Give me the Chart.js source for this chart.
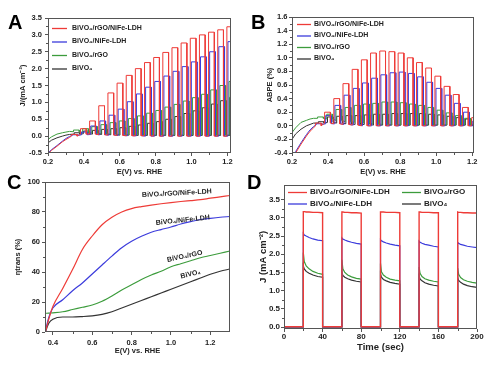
<!DOCTYPE html>
<html>
<head>
<meta charset="utf-8">
<script src="https://cdn.jsdelivr.net/npm/chart.js@4.4.1/dist/chart.umd.min.js"></script>
<style>
  html, body { margin: 0; padding: 0; background: #fff; }
  #fig { position: relative; width: 497px; height: 367px; overflow: hidden; }
  #fig canvas { position: absolute; }
  .tag { position: absolute; font: bold 20px 'Liberation Sans', Arial, sans-serif; line-height: 20px; color: #000; }
</style>
</head>
<body>
<div id="fig">
  <canvas id="chartA" width="245" height="180" style="left:0;top:0"></canvas>
  <canvas id="chartB" width="252" height="180" style="left:245px;top:0"></canvas>
  <canvas id="chartC" width="245" height="197" style="left:0;top:170px"></canvas>
  <canvas id="chartD" width="252" height="197" style="left:245px;top:170px"></canvas>
  <div class="tag" style="left:8px;top:12px">A</div>
  <div class="tag" style="left:251px;top:12px">B</div>
  <div class="tag" style="left:7px;top:172px">C</div>
  <div class="tag" style="left:247px;top:172px">D</div>
</div>
<script>
// sample names and colours, same order in every panel
const seriesNames = ["BiVO₄/rGO/NiFe-LDH", "BiVO₄/NiFe-LDH", "BiVO₄/rGO", "BiVO₄"];
const seriesColors = ["#ee3b37", "#3c3cdc", "#3c9c3c", "#333333"];

// A + B: chopped-light scans. potential where the light goes on, per chop (V vs RHE)
const chopOnE = [0.330, 0.381, 0.432, 0.483, 0.534, 0.585, 0.636, 0.687, 0.738,
                 0.789, 0.840, 0.891, 0.942, 0.993, 1.044, 1.095, 1.146, 1.197];
const chopLen = 0.032;                  // light-on span of each chop (V)
const chopShift = [0, 0.006, 0.012, 0.016]; // small phase difference between samples
// start of the scan, before the chopping starts
const preE = [0.20, 0.22, 0.25, 0.28, 0.30, 0.32];

// panel A, photocurrent J (mA cm-2)
const redPreA   = [-0.52, -0.42, -0.30, -0.17, -0.10, -0.04];
const bluePreA  = [-0.50, -0.40, -0.28, -0.15, -0.07, -0.01];
const greenPreA = [-0.10, -0.02, 0.06, 0.10, 0.12, 0.14];
const blackPreA = [-0.20, -0.12, -0.05, 0.00, 0.03, 0.05];
const redTopA   = [0.05, 0.22, 0.45, 0.90, 1.28, 1.57, 1.80, 2.00, 2.18, 2.33, 2.48, 2.62, 2.76, 2.90, 3.00, 3.08, 3.15, 3.24];
const blueTopA  = [0.04, 0.12, 0.30, 0.45, 0.62, 0.80, 1.02, 1.25, 1.45, 1.62, 1.78, 1.92, 2.06, 2.20, 2.35, 2.50, 2.65, 2.80];
const greenTopA = [0.18, 0.22, 0.28, 0.34, 0.40, 0.45, 0.52, 0.60, 0.68, 0.76, 0.86, 0.94, 1.04, 1.14, 1.24, 1.37, 1.50, 1.62];
const blackTopA = [0.10, 0.15, 0.17, 0.20, 0.22, 0.25, 0.29, 0.33, 0.38, 0.43, 0.50, 0.58, 0.67, 0.75, 0.84, 0.95, 1.05, 1.15];
const redDarkA   = [0.00, 0.06, 0.06, 0.04, 0.03, 0.02, 0.01, 0.01, 0.01, 0, 0, 0, 0, 0, 0, 0, 0, 0];
const blueDarkA  = [0.02, 0.04, 0.05, 0.04, 0.03, 0.02, 0.01, 0.01, 0, 0, 0, 0, 0, 0, 0, 0, 0, 0];
const greenDarkA = [0.13, 0.11, 0.09, 0.07, 0.06, 0.05, 0.04, 0.04, 0.03, 0.03, 0.03, 0.03, 0.03, 0.03, 0.03, 0.03, 0.03, 0.03];
const blackDarkA = [0.06, 0.07, 0.06, 0.05, 0.04, 0.03, 0.03, 0.02, 0.02, 0.02, 0.02, 0.02, 0.02, 0.02, 0.02, 0.02, 0.02, 0.02];

// panel B, ABPE (%)
const redPreB   = [-0.50, -0.40, -0.27, -0.15, -0.08, -0.03];
const bluePreB  = [-0.48, -0.38, -0.25, -0.13, -0.06, -0.01];
const greenPreB = [-0.10, -0.03, 0.05, 0.08, 0.10, 0.11];
const blackPreB = [-0.20, -0.12, -0.05, 0.00, 0.02, 0.04];
const redTopB   = [0.04, 0.20, 0.40, 0.62, 0.83, 0.97, 1.07, 1.10, 1.09, 1.07, 1.00, 0.93, 0.85, 0.73, 0.58, 0.46, 0.27, 0.12];
const blueTopB  = [0.03, 0.15, 0.30, 0.45, 0.55, 0.63, 0.70, 0.75, 0.78, 0.79, 0.77, 0.72, 0.64, 0.55, 0.45, 0.33, 0.20, 0.07];
const greenTopB = [0.13, 0.17, 0.24, 0.27, 0.30, 0.32, 0.33, 0.35, 0.35, 0.34, 0.32, 0.30, 0.27, 0.23, 0.19, 0.15, 0.11, 0.06];
const blackTopB = [0.06, 0.13, 0.14, 0.15, 0.15, 0.16, 0.17, 0.17, 0.18, 0.18, 0.18, 0.18, 0.17, 0.16, 0.14, 0.12, 0.10, 0.06];
const redDarkB   = [0.00, 0.04, 0.03, 0.02, 0.01, 0, 0, 0, 0, 0, 0, 0, 0, 0, 0, 0, 0, 0];
const blueDarkB  = [0.02, 0.03, 0.03, 0.02, 0.01, 0, 0, 0, 0, 0, 0, 0, 0, 0, 0, 0, 0, 0];
const greenDarkB = [0.11, 0.10, 0.08, 0.06, 0.05, 0.04, 0.03, 0.02, 0.02, 0.01, 0.01, 0.01, 0.01, 0.01, 0.01, 0.01, 0.01, 0.01];
const blackDarkB = [0.04, 0.05, 0.04, 0.03, 0.02, 0.02, 0.01, 0.01, 0.01, 0.01, 0.01, 0.01, 0.01, 0.01, 0.01, 0.01, 0.01, 0.01];

// panel C, charge transfer efficiency (%)
const effE     = [0.362, 0.37, 0.38, 0.40, 0.45, 0.50, 0.55, 0.60, 0.65, 0.70, 0.75, 0.80, 0.85, 0.90, 0.95, 1.00, 1.05, 1.10, 1.15, 1.20, 1.25, 1.30];
const effRed   = [0, 4, 9, 17, 29, 41.6, 55, 64, 71.5, 76.5, 80, 82.3, 83.6, 84.6, 85.5, 86.3, 87, 87.6, 88.2, 89.2, 90.1, 91];
const effBlue  = [0, 5, 10, 16, 21.5, 27.5, 32.7, 38.7, 44.7, 50.6, 56.2, 60.5, 63.8, 66.5, 68.3, 70, 72, 73.6, 75, 75.8, 76.5, 77];
const effGreen = [12.5, 12.5, 12.6, 12.8, 13.5, 15, 16.5, 18, 20.5, 24, 28, 31.5, 35, 38, 40.5, 43.5, 45.5, 47.5, 49.5, 51, 52.5, 54];
const effBlack = [0, 3, 6, 8.5, 10, 10, 10.3, 10.8, 11.8, 13.5, 16, 18.5, 21, 23.5, 26, 28.5, 31, 33.5, 36, 38.5, 40.5, 42];

// panel D, on/off light transients
const pulseOnT = [20, 60, 100, 140, 180];
const pulseLen = 20;
const pulseStepT = [0, 1, 3, 6, 10, 15, 20];   // seconds after light on
const darkD = 0.01;
const redD = [[3.17, 3.17, 3.16, 3.16, 3.15, 3.15, 3.14], [3.16, 3.16, 3.15, 3.15, 3.14, 3.14, 3.13],
              [3.16, 3.16, 3.16, 3.15, 3.15, 3.15, 3.14], [3.16, 3.16, 3.15, 3.15, 3.15, 3.14, 3.14],
              [3.16, 3.15, 3.15, 3.14, 3.14, 3.13, 3.13]];
const blueD = [[2.57, 2.53, 2.50, 2.46, 2.42, 2.39, 2.37], [2.45, 2.42, 2.39, 2.36, 2.33, 2.30, 2.28],
               [2.40, 2.37, 2.34, 2.31, 2.28, 2.25, 2.23], [2.36, 2.33, 2.30, 2.27, 2.25, 2.22, 2.20],
               [2.33, 2.30, 2.27, 2.25, 2.22, 2.20, 2.18]];
const greenD = [[2.05, 1.80, 1.68, 1.60, 1.53, 1.48, 1.45], [1.85, 1.60, 1.50, 1.43, 1.38, 1.34, 1.32],
                [1.75, 1.52, 1.43, 1.37, 1.32, 1.29, 1.27], [1.65, 1.48, 1.39, 1.33, 1.29, 1.26, 1.24],
                [1.62, 1.45, 1.36, 1.30, 1.26, 1.23, 1.21]];
const blackD = [[1.68, 1.60, 1.53, 1.48, 1.43, 1.39, 1.37], [1.50, 1.42, 1.37, 1.33, 1.29, 1.26, 1.24],
                [1.45, 1.37, 1.31, 1.27, 1.23, 1.20, 1.18], [1.40, 1.32, 1.27, 1.22, 1.18, 1.15, 1.13],
                [1.35, 1.28, 1.23, 1.18, 1.14, 1.11, 1.09]];

// tick labels
const ticksE   = [0.2, 0.4, 0.6, 0.8, 1.0, 1.2];
const ticksJ   = [-0.5, 0.0, 0.5, 1.0, 1.5, 2.0, 2.5, 3.0, 3.5];
const ticksABPE = [-0.4, -0.2, 0.0, 0.2, 0.4, 0.6, 0.8, 1.0, 1.2, 1.4, 1.6];
const ticksEC  = [0.4, 0.6, 0.8, 1.0, 1.2];
const ticksEff = [0, 20, 40, 60, 80, 100];
const ticksT   = [0, 40, 80, 120, 160, 200];
const ticksJD  = [0.0, 0.5, 1.0, 1.5, 2.0, 2.5, 3.0, 3.5];

const fontFam = "'Liberation Sans', Arial, sans-serif";
Chart.defaults.font.family = fontFam;
Chart.defaults.font.weight = 'bold';
Chart.defaults.color = '#222';

// turn the chop tables into a polyline
function chopSeries(pre, tops, dark, shift) {
  const pts = preE.map((e, i) => ({x: e, y: pre[i]}));
  chopOnE.forEach((e0, i) => {
    const on = e0 + shift, off = on + chopLen;
    pts.push({x: on, y: dark[i]}, {x: on, y: tops[i]}, {x: off, y: tops[i]}, {x: off, y: dark[i]});
  });
  pts.push({x: 1.26, y: dark[dark.length - 1]});
  return pts;
}

function pulseSeries(vals) {
  const pts = [{x: 0, y: darkD}];
  pulseOnT.forEach((t0, p) => {
    pts.push({x: t0, y: darkD});
    pulseStepT.forEach((dt, k) => pts.push({x: t0 + dt, y: vals[p][k]}));
    pts.push({x: t0 + pulseLen, y: darkD});
  });
  return pts;
}

function lineSet(i, data, width, smooth) {
  const ds = {label: seriesNames[i], data: data, borderColor: seriesColors[i], borderWidth: width,
              pointRadius: 0, tension: 0, fill: false};
  if (smooth) ds.cubicInterpolationMode = 'monotone';
  return ds;
}

// box round the plot + small outward minor ticks
const framePlugin = {
  id: 'frame',
  afterDraw(chart) {
    const {ctx, chartArea: a, scales} = chart;
    ctx.save();
    ctx.strokeStyle = '#555';
    ctx.lineWidth = 1;
    ctx.strokeRect(Math.round(a.left) + 0.5, Math.round(a.top) + 0.5,
                   Math.round(a.right - a.left) - 1, Math.round(a.bottom - a.top) - 1);
    ctx.beginPath();
    const xt = scales.x.ticks, yt = scales.y.ticks;
    for (let i = 1; i < xt.length; i++) {
      const px = Math.round(scales.x.getPixelForValue((xt[i - 1].value + xt[i].value) / 2)) + 0.5;
      ctx.moveTo(px, a.bottom); ctx.lineTo(px, a.bottom + 2);
    }
    for (let i = 1; i < yt.length; i++) {
      const py = Math.round(scales.y.getPixelForValue((yt[i - 1].value + yt[i].value) / 2)) + 0.5;
      ctx.moveTo(a.left, py); ctx.lineTo(a.left - 2, py);
    }
    ctx.stroke();
    ctx.restore();
  }
};

// legend drawn inside the plot
const keyPlugin = {
  id: 'key',
  afterDraw(chart, args, opts) {
    if (!opts.items) return;
    const ctx = chart.ctx;
    ctx.save();
    ctx.font = 'bold ' + opts.size + 'px ' + fontFam;
    ctx.textBaseline = 'middle';
    opts.items.forEach(it => {
      const ds = chart.data.datasets[it.i];
      ctx.strokeStyle = ds.borderColor;
      ctx.lineWidth = 1.3;
      ctx.beginPath();
      ctx.moveTo(it.x, it.y + 0.5); ctx.lineTo(it.x + opts.len, it.y + 0.5);
      ctx.stroke();
      ctx.fillStyle = '#222';
      ctx.fillText(ds.label, it.x + opts.len + opts.gap, it.y);
    });
    ctx.restore();
  }
};

// names written along the curves (panel C)
const tagPlugin = {
  id: 'tags',
  afterDraw(chart, args, opts) {
    if (!opts.items) return;
    const {ctx, scales} = chart;
    ctx.save();
    ctx.font = 'bold ' + opts.size + 'px ' + fontFam;
    ctx.textAlign = 'center';
    ctx.textBaseline = 'middle';
    ctx.fillStyle = '#222';
    opts.items.forEach(it => {
      ctx.save();
      ctx.translate(scales.x.getPixelForValue(it.x), scales.y.getPixelForValue(it.y));
      ctx.rotate(it.rot * Math.PI / 180);
      ctx.fillText(seriesNames[it.i], 0, 0);
      ctx.restore();
    });
    ctx.restore();
  }
};

function axis(o) {
  return {
    type: 'linear', min: o.min, max: o.max,
    afterBuildTicks: s => { s.ticks = o.ticks.map(v => ({value: v})); },
    afterFit: s => {
      if (s.isHorizontal()) s.height = o.size; else s.width = o.size;
      s.paddingLeft = s.paddingRight = s.paddingTop = s.paddingBottom = 0;
    },
    grid: {drawOnChartArea: false, tickLength: 3, color: '#555'},
    border: {display: false},
    ticks: {font: {size: o.font, weight: 'bold'}, padding: o.pad, color: '#222',
            maxRotation: 0, autoSkip: false, callback: v => o.fmt(v)},
    title: {display: true, text: o.title, font: {size: o.tfont, weight: 'bold'},
            padding: o.tpad, color: '#222'}
  };
}

function makeChart(id, datasets, pad, xAx, yAx, plugOpts) {
  return new Chart(document.getElementById(id), {
    type: 'line',
    data: {datasets: datasets},
    options: {
      responsive: false, animation: false, devicePixelRatio: 1,
      parsing: false, normalized: true,
      layout: {padding: pad},
      scales: {x: axis(xAx), y: axis(yAx)},
      plugins: Object.assign({legend: {display: false}, tooltip: {enabled: false}}, plugOpts)
    },
    plugins: [framePlugin, keyPlugin, tagPlugin]
  });
}

const f1 = v => v.toFixed(1);
const f0 = v => v.toFixed(0);

// A
makeChart('chartA', [
  lineSet(0, chopSeries(redPreA, redTopA, redDarkA, chopShift[0]), 1),
  lineSet(1, chopSeries(bluePreA, blueTopA, blueDarkA, chopShift[1]), 1),
  lineSet(2, chopSeries(greenPreA, greenTopA, greenDarkA, chopShift[2]), 1),
  lineSet(3, chopSeries(blackPreA, blackTopA, blackDarkA, chopShift[3]), 1)
], {top: 18, right: 14, left: 0, bottom: 0},
  {min: 0.2, max: 1.22, ticks: ticksE, size: 27, font: 7.5, pad: 1, fmt: f1,
   title: 'E(V) vs. RHE', tfont: 7.5, tpad: {bottom: 3.5}},
  {min: -0.5, max: 3.5, ticks: ticksJ, size: 48, font: 7.5, pad: 3, fmt: f1,
   title: 'J/(mA cm⁻²)', tfont: 7.5, tpad: {top: 18.5}},
  {key: {size: 7, len: 15, gap: 5, items: [{i: 0, x: 52, y: 28}, {i: 1, x: 52, y: 41.5}, {i: 2, x: 52, y: 55}, {i: 3, x: 52, y: 68.5}]}});

// B
makeChart('chartB', [
  lineSet(0, chopSeries(redPreB, redTopB, redDarkB, chopShift[0]), 1),
  lineSet(1, chopSeries(bluePreB, blueTopB, blueDarkB, chopShift[1]), 1),
  lineSet(2, chopSeries(greenPreB, greenTopB, greenDarkB, chopShift[2]), 1),
  lineSet(3, chopSeries(blackPreB, blackTopB, blackDarkB, chopShift[3]), 1)
], {top: 17, right: 23, left: 0, bottom: 0},
  {min: 0.2, max: 1.21, ticks: ticksE, size: 27, font: 7.5, pad: 1, fmt: f1,
   title: 'E(V) vs. RHE', tfont: 7.5, tpad: {bottom: 3.5}},
  {min: -0.4, max: 1.6, ticks: ticksABPE, size: 47, font: 7.5, pad: 1.5, fmt: f1,
   title: 'ABPE (%)', tfont: 7.5, tpad: {top: 20.5}},
  {key: {size: 7, len: 14, gap: 3, items: [{i: 0, x: 52, y: 24}, {i: 1, x: 52, y: 35.5}, {i: 2, x: 52, y: 47}, {i: 3, x: 52, y: 58.5}]}});

// C
makeChart('chartC', [
  lineSet(0, effE.map((e, i) => ({x: e, y: effRed[i]})), 1.2, true),
  lineSet(1, effE.map((e, i) => ({x: e, y: effBlue[i]})), 1.2, true),
  lineSet(2, effE.map((e, i) => ({x: e, y: effGreen[i]})), 1.2, true),
  lineSet(3, effE.map((e, i) => ({x: e, y: effBlack[i]})), 1.2, true)
], {top: 12, right: 15, left: 0, bottom: 0},
  {min: 0.36, max: 1.3, ticks: ticksEC, size: 35, font: 7.5, pad: 3, fmt: f1,
   title: 'E(V) vs. RHE', tfont: 7.5, tpad: {bottom: 11.5}},
  {min: 0, max: 100, ticks: ticksEff, size: 45, font: 7.5, pad: 2, fmt: f0,
   title: 'ηtrans (%)', tfont: 7.5, tpad: {top: 13.5}},
  {tags: {size: 7, items: [{i: 0, x: 1.03, y: 92.5, rot: -3}, {i: 1, x: 1.06, y: 74.5, rot: -6},
                           {i: 2, x: 1.07, y: 50.5, rot: -12}, {i: 3, x: 1.1, y: 38.5, rot: -13}]}});

// D
makeChart('chartD', [
  lineSet(0, pulseSeries(redD), 1.4),
  lineSet(1, pulseSeries(blueD), 1.2),
  lineSet(2, pulseSeries(greenD), 1.2),
  lineSet(3, pulseSeries(blackD), 1.2)
], {top: 15, right: 20, left: 0, bottom: 0},
  {min: 0, max: 200, ticks: ticksT, size: 38, font: 8, pad: 0, fmt: f0,
   title: 'Time (sec)', tfont: 9.5, tpad: {bottom: 14}},
  {min: -0.05, max: 3.9, ticks: ticksJD, size: 39, font: 8, pad: 1, fmt: f1,
   title: 'J (mA cm⁻²)', tfont: 9.5, tpad: {top: 12.3}},
  {key: {size: 8, len: 19, gap: 3, items: [{i: 0, x: 43, y: 22}, {i: 2, x: 157, y: 22}, {i: 1, x: 43, y: 33.5}, {i: 3, x: 157, y: 33.5}]}});
</script>
</body>
</html>
